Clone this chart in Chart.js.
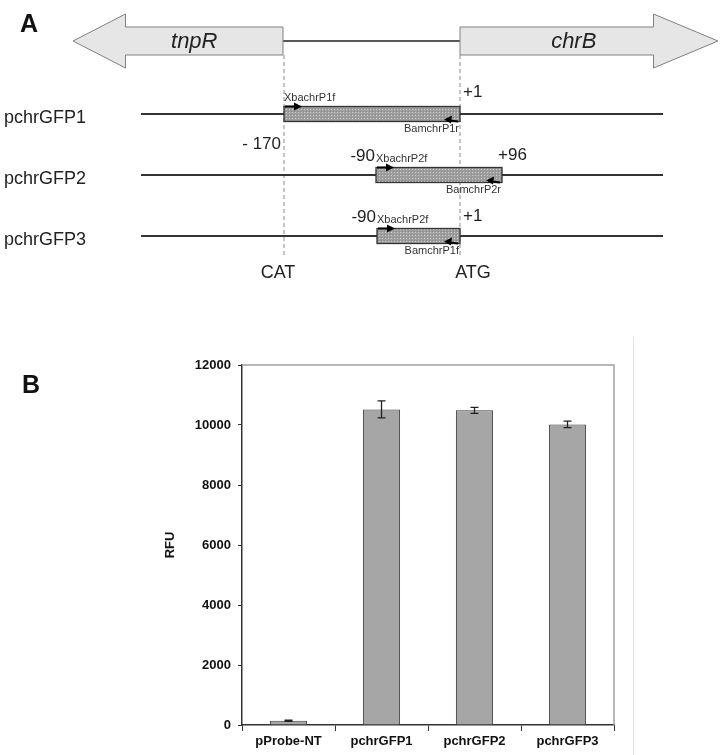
<!DOCTYPE html>
<html><head><meta charset="utf-8">
<script src="https://cdn.jsdelivr.net/npm/chart.js@4.4.0/dist/chart.umd.min.js"></script>
<style>
html,body{margin:0;padding:0;background:#fff;}
#wrap{position:relative;width:726px;height:755px;overflow:hidden;background:#fff;}
#cA{position:absolute;left:0;top:0;width:726px;height:300px;}
#cB{position:absolute;left:0;top:300px;width:726px;height:455px;}
.lbl{position:absolute;font:bold 25px "Liberation Sans",Arial,sans-serif;color:#111;line-height:normal;}
</style></head><body>
<div id="wrap">
<canvas id="cA" width="726" height="300"></canvas>
<canvas id="cB" width="726" height="455"></canvas>
<div class="lbl" style="left:20px;top:9px">A</div>
<div class="lbl" style="left:22px;top:370px">B</div>
</div>
<script>
// ---------- Panel B data ----------
const categories = ['pProbe-NT', 'pchrGFP1', 'pchrGFP2', 'pchrGFP3'];
const rfu = [140, 10520, 10490, 10020];
const rfuErr = [20, 285, 100, 110];
const yTicks = [0, 2000, 4000, 6000, 8000, 10000, 12000];

// ---------- Panel A data (diagram units) ----------
const geneNames = ['tnpR', 'chrB'];
const geneFrom = [283, 460];     // start of the gene (at the intergenic region)
const geneTo = [73, 718];        // arrow tip
const constructs = ['pchrGFP1', 'pchrGFP2', 'pchrGFP3'];
const fragStart = [284, 376, 377];
const fragEnd = [460, 502, 460];
const fwdPrimers = ['XbachrP1f', 'XbachrP2f', 'XbachrP2f'];
const revPrimers = ['BamchrP1r', 'BamchrP2r', 'BamchrP1f'];
const leftMarks = ['- 170', '-90', '-90'];
const rightMarks = ['+1', '+96', '+1'];
const landmarks = ['CAT', 'ATG'];
const landmarkPos = [284, 460];

const FONT = '"Liberation Sans", Arial, Helvetica, sans-serif';

function stipple(ctx) {
  const c = document.createElement('canvas');
  c.width = 3; c.height = 3;
  const g = c.getContext('2d');
  g.fillStyle = '#9e9e9e'; g.fillRect(0, 0, 3, 3);
  g.fillStyle = '#cfcfcf'; g.fillRect(1, 1, 1, 1);
  g.fillStyle = '#8a8a8a'; g.fillRect(0, 0, 1, 1);
  return ctx.createPattern(c, 'repeat');
}

const diagramPlugin = {
  id: 'diagram',
  afterDraw(chart) {
    const ctx = chart.ctx;
    const X = v => chart.scales.x.getPixelForValue(v);
    const Y = v => chart.scales.y.getPixelForValue(v);
    const geneY = 41, shaftH = 14, headH = 27;
    const rowY = [114, 175, 236];
    ctx.save();
    // intergenic line
    ctx.strokeStyle = '#222'; ctx.lineWidth = 1.3;
    ctx.beginPath(); ctx.moveTo(X(geneFrom[0]), Y(geneY)); ctx.lineTo(X(geneFrom[1]), Y(geneY)); ctx.stroke();
    // gene arrows
    geneNames.forEach((name, i) => {
      const a = X(geneFrom[i]), t = X(geneTo[i]);
      const dir = Math.sign(t - a);
      const len = Math.abs(t - a);
      const hb = t - dir * len * 0.25;
      const cy = Y(geneY);
      ctx.beginPath();
      ctx.moveTo(a, cy - shaftH);
      ctx.lineTo(hb, cy - shaftH);
      ctx.lineTo(hb, cy - headH);
      ctx.lineTo(t, cy);
      ctx.lineTo(hb, cy + headH);
      ctx.lineTo(hb, cy + shaftH);
      ctx.lineTo(a, cy + shaftH);
      ctx.closePath();
      ctx.fillStyle = '#e6e6e6'; ctx.fill();
      ctx.strokeStyle = '#808080'; ctx.lineWidth = 1; ctx.stroke();
      ctx.fillStyle = '#222';
      ctx.font = 'italic 22px ' + FONT;
      ctx.textAlign = 'center'; ctx.textBaseline = 'middle';
      ctx.fillText(name, (a + hb) / 2 + (dir < 0 ? -10 : 17), cy + 1);
    });
    // dashed guide lines
    ctx.strokeStyle = '#8c8c8c'; ctx.lineWidth = 1; ctx.setLineDash([4, 3]);
    landmarkPos.forEach(p => {
      ctx.beginPath(); ctx.moveTo(X(p), Y(geneY + shaftH)); ctx.lineTo(X(p), Y(257)); ctx.stroke();
    });
    ctx.setLineDash([]);
    // constructs
    const pat = stipple(ctx);
    constructs.forEach((name, i) => {
      const y = Y(rowY[i]);
      ctx.strokeStyle = '#333'; ctx.lineWidth = 2;
      ctx.beginPath(); ctx.moveTo(X(141), y); ctx.lineTo(X(663), y); ctx.stroke();
      const x0 = X(fragStart[i]), x1 = X(fragEnd[i]);
      const top = y - 7.5, h = 15;
      ctx.fillStyle = pat; ctx.fillRect(x0, top, x1 - x0, h);
      ctx.strokeStyle = '#333'; ctx.lineWidth = 1.3; ctx.strokeRect(x0, top, x1 - x0, h);
      // forward primer arrow
      ctx.strokeStyle = '#000'; ctx.fillStyle = '#000'; ctx.lineWidth = 2;
      ctx.beginPath(); ctx.moveTo(x0 + 1, top); ctx.lineTo(x0 + 12, top); ctx.stroke();
      ctx.beginPath(); ctx.moveTo(x0 + 18, top); ctx.lineTo(x0 + 10, top - 4); ctx.lineTo(x0 + 10, top + 4); ctx.closePath(); ctx.fill();
      // reverse primer arrow
      const bot = top + h;
      ctx.beginPath(); ctx.moveTo(x1 - 2, bot); ctx.lineTo(x1 - 10, bot - 1); ctx.stroke();
      ctx.beginPath(); ctx.moveTo(x1 - 16, bot - 2); ctx.lineTo(x1 - 8, bot - 6); ctx.lineTo(x1 - 9, bot + 2); ctx.closePath(); ctx.fill();
      // labels
      ctx.fillStyle = '#222';
      ctx.font = '18px ' + FONT; ctx.textAlign = 'left'; ctx.textBaseline = 'middle';
      ctx.fillText(name, X(4), y + 4);
      ctx.font = '11px ' + FONT; ctx.fillStyle = '#333';
      ctx.textAlign = 'left'; ctx.fillText(fwdPrimers[i], x0, top - 9);
      ctx.textAlign = 'right'; ctx.fillText(revPrimers[i], x1 - 1, bot + 7);
      ctx.font = '17px ' + FONT; ctx.fillStyle = '#222';
      if (i === 0) { ctx.textAlign = 'right'; ctx.fillText(leftMarks[i], x0 - 3, y + 30); }
      else { ctx.textAlign = 'right'; ctx.fillText(leftMarks[i], x0 - 1, y - 19); }
      ctx.textAlign = 'left';
      ctx.fillText(rightMarks[i], x1 + (i === 1 ? -4 : 3), y - (i === 0 ? 22 : 20));
    });
    // landmarks
    ctx.font = '18px ' + FONT; ctx.fillStyle = '#222'; ctx.textAlign = 'center'; ctx.textBaseline = 'middle';
    landmarks.forEach((t, i) => ctx.fillText(t, X(landmarkPos[i]) + (i === 0 ? -6 : 13), Y(273)));
    ctx.restore();
  }
};

new Chart(document.getElementById('cA'), {
  type: 'scatter',
  data: { datasets: [{ data: [] }] },
  options: {
    responsive: false, animation: false, devicePixelRatio: 1,
    layout: { padding: 0 },
    plugins: { legend: { display: false }, tooltip: { enabled: false } },
    scales: {
      x: { type: 'linear', min: 0, max: 726, display: false },
      y: { type: 'linear', min: 0, max: 300, reverse: true, display: false }
    }
  },
  plugins: [diagramPlugin]
});

// ---------- Panel B ----------
const framePlugin = {
  id: 'frame',
  afterDraw(chart) {
    const { ctx, chartArea: a } = chart;
    ctx.save();
    ctx.strokeStyle = '#a0a0a0'; ctx.lineWidth = 1.5;
    ctx.beginPath(); ctx.moveTo(a.left, a.top); ctx.lineTo(a.right, a.top); ctx.lineTo(a.right, a.bottom); ctx.stroke();
    ctx.strokeStyle = '#e2e2e2'; ctx.lineWidth = 1;
    ctx.beginPath(); ctx.moveTo(a.right + 19.5, a.top - 28); ctx.lineTo(a.right + 19.5, chart.height); ctx.stroke();
    ctx.restore();
  }
};
const errorBarPlugin = {
  id: 'errbars',
  afterDatasetsDraw(chart) {
    const { ctx } = chart;
    const meta = chart.getDatasetMeta(0);
    const ys = chart.scales.y;
    ctx.save();
    ctx.strokeStyle = '#222'; ctx.lineWidth = 1.3;
    meta.data.forEach((bar, i) => {
      const x = bar.x;
      const hi = ys.getPixelForValue(rfu[i] + rfuErr[i]);
      const lo = ys.getPixelForValue(rfu[i] - rfuErr[i]);
      ctx.beginPath();
      ctx.moveTo(x, hi); ctx.lineTo(x, lo);
      ctx.moveTo(x - 4, hi); ctx.lineTo(x + 4, hi);
      ctx.moveTo(x - 4, lo); ctx.lineTo(x + 4, lo);
      ctx.stroke();
    });
    ctx.restore();
  }
};

new Chart(document.getElementById('cB'), {
  type: 'bar',
  data: {
    labels: categories,
    datasets: [{ data: rfu, backgroundColor: '#a6a6a6', borderColor: '#3a3a3a', borderWidth: 1, barPercentage: 0.4, categoryPercentage: 1 }]
  },
  options: {
    responsive: false, animation: false, devicePixelRatio: 1,
    layout: { padding: { left: 150, right: 112, top: 65, bottom: 0 } },
    plugins: { legend: { display: false }, tooltip: { enabled: false } },
    scales: {
      x: {
        grid: { display: true, drawOnChartArea: false, drawTicks: true, tickLength: 6, color: '#333', offset: true },
        border: { display: true, color: '#333', width: 1.5 },
        ticks: { font: { family: FONT, size: 13, weight: 'bold' }, color: '#111', padding: 3, maxRotation: 0, autoSkip: false },
        afterFit(s) { s.height = 30; }
      },
      y: {
        min: 0, max: 12000,
        afterBuildTicks(s) { s.ticks = yTicks.map(v => ({ value: v })); },
        ticks: { font: { family: FONT, size: 13, weight: 'bold' }, color: '#111', padding: 7, callback: v => String(v) },
        grid: { display: true, drawOnChartArea: false, drawTicks: true, tickLength: 4, color: '#333' },
        border: { display: true, color: '#333', width: 1.5 },
        title: { display: true, text: 'RFU', font: { family: FONT, size: 13, weight: 'bold' }, color: '#111', padding: { top: 13, bottom: 0 } },
        afterFit(s) { s.width = 92; }
      }
    }
  },
  plugins: [framePlugin, errorBarPlugin]
});
</script>
</body></html>
